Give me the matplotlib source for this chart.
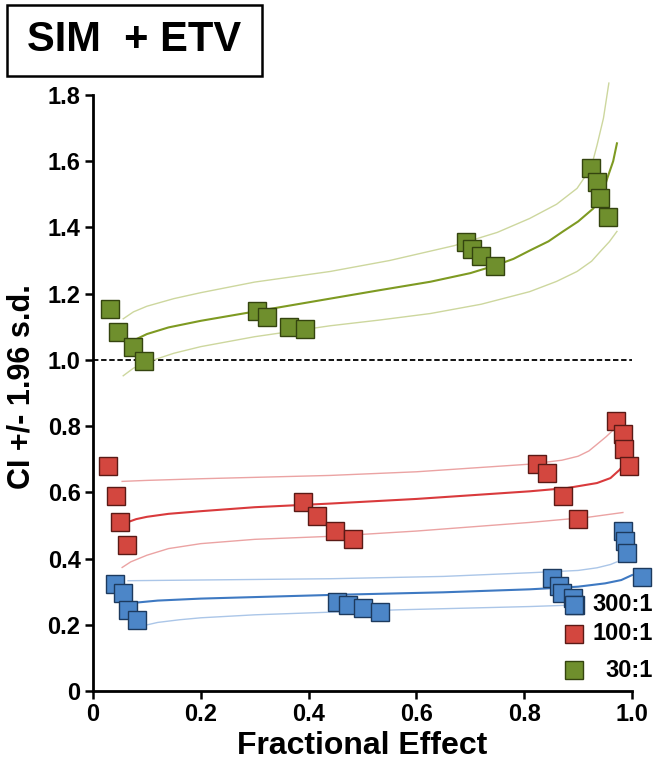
import numpy as np
import matplotlib.pyplot as plt
from matplotlib.patches import Rectangle

# Fuente tipo Arial en negrita
plt.rcParams['font.family'] = ['Liberation Sans', 'DejaVu Sans']
plt.rcParams['font.weight'] = 'bold'

# Datos: puntos (Fa, CI)
fa_30 = [0.032, 0.046, 0.074, 0.095, 0.304, 0.323, 0.364, 0.393,
         0.692, 0.703, 0.720, 0.746, 0.924, 0.935, 0.941, 0.955]
ci_30 = [1.155, 1.085, 1.040, 0.997, 1.148, 1.130, 1.100, 1.094,
         1.357, 1.336, 1.315, 1.285, 1.580, 1.536, 1.488, 1.433]

fa_100 = [0.028, 0.043, 0.050, 0.063, 0.390, 0.416, 0.449, 0.482,
          0.824, 0.842, 0.872, 0.900, 0.970, 0.983, 0.985, 0.994]
ci_100 = [0.679, 0.588, 0.509, 0.442, 0.570, 0.527, 0.482, 0.458,
          0.685, 0.657, 0.588, 0.518, 0.815, 0.776, 0.730, 0.679]

fa_300 = [0.041, 0.056, 0.065, 0.081, 0.453, 0.473, 0.501, 0.532,
          0.852, 0.865, 0.870, 0.891, 0.894, 0.983, 0.987, 0.990, 1.018]
ci_300 = [0.324, 0.296, 0.245, 0.215, 0.270, 0.261, 0.252, 0.239,
          0.342, 0.316, 0.296, 0.282, 0.261, 0.482, 0.452, 0.418, 0.345]

# Curvas ajustadas (media y limites +/- 1.96 s.d.), leidas punto a punto
fa_30_mid = [0.082, 0.10, 0.14, 0.20, 0.30, 0.44, 0.53, 0.626, 0.70, 0.746, 0.78, 0.81,
             0.845, 0.872, 0.90, 0.928, 0.945, 0.954, 0.965, 0.972]
ci_30_mid = [1.064, 1.078, 1.098, 1.118, 1.146, 1.185, 1.210, 1.236, 1.262, 1.285, 1.305, 1.330,
             1.358, 1.388, 1.418, 1.457, 1.500, 1.548, 1.600, 1.654]
fa_30_hi = [0.056, 0.075, 0.10, 0.15, 0.20, 0.30, 0.44, 0.55, 0.67, 0.75, 0.81, 0.86,
            0.898, 0.924, 0.935, 0.947, 0.957]
ci_30_hi = [1.124, 1.145, 1.162, 1.185, 1.203, 1.235, 1.267, 1.300, 1.345, 1.385, 1.427, 1.470,
            1.518, 1.580, 1.648, 1.730, 1.836]
fa_30_lo = [0.056, 0.075, 0.10, 0.15, 0.20, 0.30, 0.44, 0.53, 0.626, 0.72, 0.81, 0.86,
            0.898, 0.925, 0.941, 0.958, 0.972]
ci_30_lo = [0.952, 0.975, 0.993, 1.020, 1.040, 1.070, 1.103, 1.120, 1.140, 1.168, 1.206, 1.237,
            1.267, 1.298, 1.327, 1.357, 1.388]

fa_100_mid = [0.063, 0.08, 0.10, 0.14, 0.20, 0.30, 0.44, 0.60, 0.81, 0.88, 0.935, 0.96,
              0.977, 0.987, 0.993]
ci_100_mid = [0.509, 0.519, 0.526, 0.535, 0.543, 0.555, 0.566, 0.580, 0.603, 0.613, 0.628, 0.643,
              0.668, 0.690, 0.716]
fa_100_hi = [0.054, 0.10, 0.20, 0.44, 0.60, 0.81, 0.87, 0.90, 0.92, 0.935, 0.952, 0.965, 0.972]
ci_100_hi = [0.633, 0.636, 0.641, 0.651, 0.662, 0.685, 0.697, 0.709, 0.725, 0.745, 0.768, 0.788, 0.806]
fa_100_lo = [0.054, 0.07, 0.10, 0.14, 0.20, 0.30, 0.44, 0.60, 0.81, 0.92, 0.983]
ci_100_lo = [0.373, 0.390, 0.410, 0.430, 0.445, 0.458, 0.467, 0.483, 0.509, 0.525, 0.539]

fa_300_mid = [0.081, 0.12, 0.20, 0.44, 0.65, 0.81, 0.90, 0.95, 0.98, 1.0]
ci_300_mid = [0.267, 0.273, 0.279, 0.290, 0.298, 0.307, 0.315, 0.325, 0.335, 0.350]
fa_300_hi = [0.065, 0.44, 0.65, 0.81, 0.90, 0.935, 0.96, 0.972]
ci_300_hi = [0.333, 0.339, 0.346, 0.357, 0.364, 0.372, 0.382, 0.390]
fa_300_lo = [0.093, 0.12, 0.16, 0.20, 0.30, 0.44, 0.564, 0.81, 0.90]
ci_300_lo = [0.197, 0.207, 0.215, 0.221, 0.230, 0.238, 0.245, 0.255, 0.260]

labels = ['300:1', '100:1', '30:1']
xticks = [0, 0.2, 0.4, 0.6, 0.8, 1.0]
xtick_labels = ['0', '0.2', '0.4', '0.6', '0.8', '1.0']
yticks = [0, 0.2, 0.4, 0.6, 0.8, 1.0, 1.2, 1.4, 1.6, 1.8]
ytick_labels = ['0', '0.2', '0.4', '0.6', '0.8', '1.0', '1.2', '1.4', '1.6', '1.8']

# Colores
c_g, c_g_line, c_g_ci, e_g = '#6f8f2d', '#7e9a22', '#cdd79e', '#34440f'
c_r, c_r_line, c_r_ci, e_r = '#d3473f', '#d93a3c', '#eba3a3', '#5a1a16'
c_b, c_b_line, c_b_ci, e_b = '#4c86c8', '#3e79c2', '#abc6e8', '#1d3a5e'

fig = plt.figure(figsize=(6.57, 7.63), dpi=100)
ax = fig.add_axes([0.1416, 0.0944, 0.8204, 0.7811])

# Linea de referencia CI = 1
ax.axhline(1.0, color='black', linestyle=(0, (3, 1.5)), linewidth=1.3, zorder=1)

# Curvas
for fx, fy, col, lw in [(fa_30_hi, ci_30_hi, c_g_ci, 1.0), (fa_30_lo, ci_30_lo, c_g_ci, 1.0),
                        (fa_30_mid, ci_30_mid, c_g_line, 1.5),
                        (fa_100_hi, ci_100_hi, c_r_ci, 1.0), (fa_100_lo, ci_100_lo, c_r_ci, 1.0),
                        (fa_100_mid, ci_100_mid, c_r_line, 1.5),
                        (fa_300_hi, ci_300_hi, c_b_ci, 1.0), (fa_300_lo, ci_300_lo, c_b_ci, 1.0),
                        (fa_300_mid, ci_300_mid, c_b_line, 1.5)]:
    ax.plot(fx, fy, '-', color=col, linewidth=lw, clip_on=False, zorder=2)

# Puntos
ms = 12.5
ax.plot(fa_30, ci_30, 's', ms=ms, mfc=c_g, mec=e_g, mew=1.0, linestyle='none', clip_on=False, zorder=3)
ax.plot(fa_100, ci_100, 's', ms=ms, mfc=c_r, mec=e_r, mew=1.0, linestyle='none', clip_on=False, zorder=3)
ax.plot(fa_300, ci_300, 's', ms=ms, mfc=c_b, mec=e_b, mew=1.0, linestyle='none', clip_on=False, zorder=3)

# Leyenda manual (texto alineado a la derecha)
leg_y = [0.145, 0.096, 0.035]
for lab, yy, fc, ec in zip(labels, leg_y, [c_b, c_r, c_g], [e_b, e_r, e_g]):
    ax.plot([0.892], [yy], 's', ms=ms, mfc=fc, mec=ec, mew=1.0, transform=ax.transAxes,
            clip_on=False, zorder=4)
    ax.text(1.039, yy, lab, transform=ax.transAxes, ha='right', va='center',
            fontsize=17, fontweight='bold', zorder=4)

# Ejes
ax.set_xlim(0, 1.0)
ax.set_ylim(0, 1.8)
ax.set_xticks(xticks)
ax.set_xticklabels(xtick_labels)
ax.set_yticks(yticks)
ax.set_yticklabels(ytick_labels)
ax.tick_params(axis='both', labelsize=17, width=1.8, length=6, direction='out', pad=3)
for s in ['top', 'right']:
    ax.spines[s].set_visible(False)
for s in ['left', 'bottom']:
    ax.spines[s].set_linewidth(2.0)

ax.set_xlabel('Fractional Effect', fontsize=23, fontweight='bold')
ax.set_ylabel('CI +/- 1.96 s.d.', fontsize=22, fontweight='bold')
ax.yaxis.set_label_coords(-0.104, 0.51)
ax.xaxis.set_label_coords(0.5, -0.068)

# Titulo en caja
fig.patches.append(Rectangle((0.0107, 0.9004), 0.388, 0.093, transform=fig.transFigure,
                             fill=False, edgecolor='black', linewidth=1.8))
fig.text(0.2047, 0.9476, 'SIM  + ETV', ha='center', va='center', fontsize=30, fontweight='bold')

fig.savefig('out.png', dpi=100)
